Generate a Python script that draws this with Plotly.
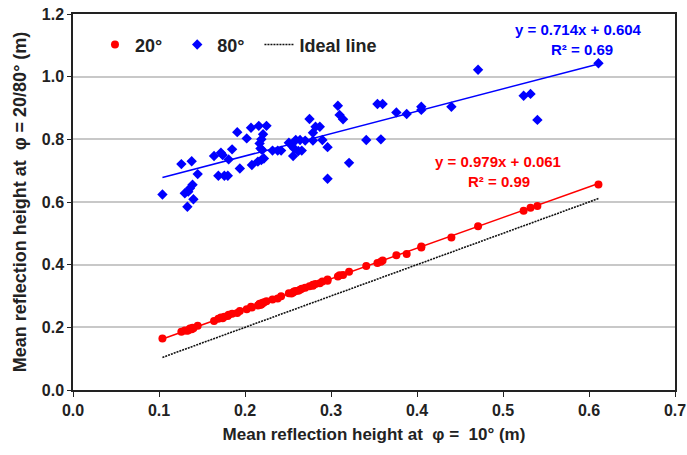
import plotly.graph_objects as go

# Mean reflection height at phi = 10 deg (m), shared by both comparisons
x10 = [0.104, 0.126, 0.138, 0.145, 0.130, 0.134, 0.136, 0.139, 0.140, 0.133,
       0.164, 0.172, 0.174, 0.169, 0.176, 0.180, 0.181, 0.185, 0.191, 0.194,
       0.202, 0.207, 0.208, 0.216, 0.225, 0.221, 0.219, 0.217, 0.218, 0.220,
       0.215, 0.219, 0.222, 0.232, 0.238, 0.242, 0.251, 0.254, 0.257, 0.262,
       0.266, 0.256, 0.259, 0.264, 0.270, 0.275, 0.279, 0.279, 0.282, 0.287,
       0.290, 0.296, 0.296, 0.308, 0.310, 0.314, 0.321, 0.341, 0.358, 0.354,
       0.360, 0.376, 0.388, 0.405, 0.405, 0.440, 0.471, 0.524, 0.532, 0.540, 0.611]

# Mean reflection height at phi = 80 deg (m)
y80 = [0.624, 0.721, 0.730, 0.689, 0.628, 0.633, 0.644, 0.655, 0.609, 0.585,
       0.747, 0.757, 0.750, 0.684, 0.684, 0.684, 0.736, 0.768, 0.823, 0.707,
       0.803, 0.837, 0.718, 0.843, 0.843, 0.816, 0.800, 0.787, 0.771, 0.766,
       0.729, 0.734, 0.739, 0.764, 0.764, 0.764, 0.789, 0.782, 0.771, 0.763,
       0.764, 0.747, 0.798, 0.798, 0.796, 0.865, 0.821, 0.796, 0.840, 0.840,
       0.798, 0.775, 0.674, 0.907, 0.878, 0.864, 0.725, 0.798, 0.800, 0.913,
       0.913, 0.886, 0.881, 0.904, 0.894, 0.904, 1.022, 0.939, 0.945, 0.862, 1.043]

# Mean reflection height at phi = 20 deg (m)
y20 = [0.164, 0.186, 0.194, 0.205, 0.190, 0.191, 0.196, 0.199, 0.197, 0.189,
       0.220, 0.231, 0.229, 0.227, 0.234, 0.236, 0.240, 0.243, 0.246, 0.252,
       0.258, 0.266, 0.263, 0.271, 0.283, 0.278, 0.273, 0.275, 0.272, 0.277,
       0.270, 0.276, 0.280, 0.289, 0.292, 0.299, 0.309, 0.308, 0.314, 0.317,
       0.323, 0.311, 0.316, 0.320, 0.326, 0.331, 0.333, 0.336, 0.338, 0.341,
       0.346, 0.349, 0.353, 0.362, 0.366, 0.367, 0.377, 0.396, 0.409, 0.405,
       0.413, 0.430, 0.434, 0.455, 0.458, 0.487, 0.523, 0.572, 0.582, 0.587, 0.656]

# Linear trend coefficients (slope, intercept, R^2)
fit20 = (0.979, 0.061, 0.99)
fit80 = (0.714, 0.604, 0.69)

x_ticks = [0.0, 0.1, 0.2, 0.3, 0.4, 0.5, 0.6, 0.7]
y_ticks = [0.0, 0.2, 0.4, 0.6, 0.8, 1.0, 1.2]

FONT = "Liberation Sans, Arial, sans-serif"
RED = "#ff0000"
BLUE = "#0000ff"
PAD = "\u00a0\u00a0"  # extra room between legend entries

xs = [min(x10), max(x10)]

fig = go.Figure()

# 1:1 reference line
fig.add_trace(go.Scatter(
    x=xs, y=xs, mode="lines", name="Ideal line",
    line=dict(color="#111111", width=1.6, dash="2px,1px"),
    legendrank=3,
))

# trend lines
fig.add_trace(go.Scatter(
    x=xs, y=[fit80[0] * v + fit80[1] for v in xs], mode="lines",
    line=dict(color=BLUE, width=1.5), showlegend=False, hoverinfo="skip",
))
fig.add_trace(go.Scatter(
    x=xs, y=[fit20[0] * v + fit20[1] for v in xs], mode="lines",
    line=dict(color=RED, width=1.5), showlegend=False, hoverinfo="skip",
))

# measured points
fig.add_trace(go.Scatter(
    x=x10, y=y80, mode="markers", name="80°" + PAD,
    marker=dict(symbol="diamond", size=8, color=BLUE),
    legendrank=2,
))
fig.add_trace(go.Scatter(
    x=x10, y=y20, mode="markers", name="20°" + PAD,
    marker=dict(symbol="circle", size=8, color=RED),
    legendrank=1,
))

def eq_text(fit):
    return f"y = {fit[0]:.3f}x + {fit[1]:.3f}", f"R² = {fit[2]:.2f}"

b1, b2 = eq_text(fit80)
r1, r2 = eq_text(fit20)
ann_font = dict(family=FONT, size=15, weight="bold")
annotations = [
    dict(x=0.588, y=1.150, text=b1, font=dict(color=BLUE, **ann_font)),
    dict(x=0.592, y=1.086, text=b2, font=dict(color=BLUE, **ann_font)),
    dict(x=0.494, y=0.728, text=r1, font=dict(color=RED, **ann_font)),
    dict(x=0.495, y=0.664, text=r2, font=dict(color=RED, **ann_font)),
]
for a in annotations:
    a.update(xref="x", yref="y", showarrow=False, xanchor="center", yanchor="middle")

tick_font = dict(family=FONT, size=16, weight="bold", color="#222222")
xtitle_font = dict(family=FONT, size=17, weight="bold", color="#222222")
ytitle_font = dict(family=FONT, size=18, weight="bold", color="#222222")

fig.update_layout(
    width=687, height=455,
    margin=dict(l=73, r=12, t=14, b=65),
    paper_bgcolor="white", plot_bgcolor="white",
    font=dict(family=FONT),
    annotations=annotations,
    legend=dict(
        orientation="h", x=0.0365, y=0.918, xanchor="left", yanchor="middle",
        font=dict(family=FONT, size=18, weight="bold", color="#222222"),
        bgcolor="rgba(0,0,0,0)", traceorder="normal",
    ),
    xaxis=dict(
        range=[0, 0.7], tickvals=x_ticks, tickformat=".1f",
        showgrid=False, zeroline=False, automargin=False,
        ticks="outside", ticklen=5, tickwidth=1.2, tickcolor="#222222",
        showline=True, linecolor="#222222", linewidth=1.5, mirror=True,
        tickfont=tick_font,
        title=dict(text="Mean reflection height at  φ =  10° (m)", font=xtitle_font, standoff=10),
    ),
    yaxis=dict(
        range=[0, 1.2], tickvals=y_ticks, tickformat=".1f",
        showgrid=True, gridcolor="#c8c8c8", gridwidth=1.5, zeroline=False, automargin=False,
        ticks="outside", ticklen=4, tickwidth=1.2, tickcolor="#222222",
        showline=True, linecolor="#222222", linewidth=1.5, mirror=True,
        tickfont=tick_font,
        title=dict(text="Mean reflection height at  φ = 20/80° (m)", font=ytitle_font, standoff=10),
    ),
)

fig.write_html("out.html")
